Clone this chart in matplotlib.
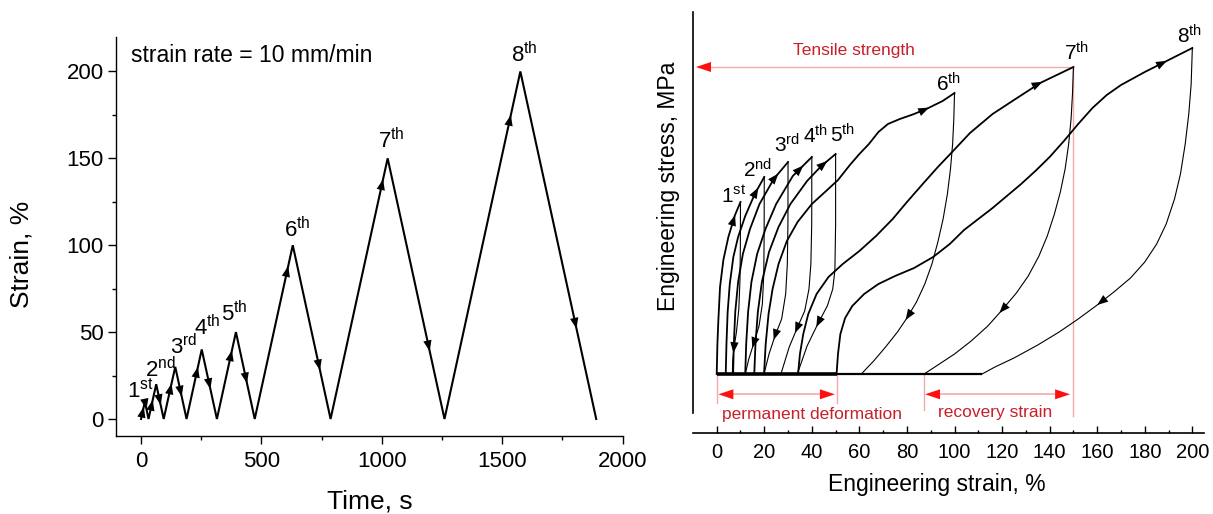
import numpy as np
import matplotlib
matplotlib.use('Agg')
import matplotlib.pyplot as plt
from matplotlib.ticker import MultipleLocator

plt.rcParams['font.family'] = ['Liberation Sans', 'DejaVu Sans']
plt.rcParams['mathtext.fontset'] = 'custom'
plt.rcParams['mathtext.rm'] = 'Liberation Sans'
plt.rcParams['mathtext.it'] = 'Liberation Sans:italic'
plt.rcParams['mathtext.bf'] = 'Liberation Sans:bold'

# ---------------- Left panel data: strain program ----------------
time_s = [0, 16, 31, 63, 94, 142, 189, 252, 315, 394, 472, 630, 787, 1024, 1260, 1575, 1890]
strain_pct = [0, 10, 0, 20, 0, 30, 0, 40, 0, 50, 0, 100, 0, 150, 0, 200, 0]
cycle_num = ['1', '2', '3', '4', '5', '6', '7', '8']
cycle_suffix = ['st', 'nd', 'rd', 'th', 'th', 'th', 'th', 'th']
rate_text = 'strain rate = 10 mm/min'

# ---------------- Right panel data: stress-strain loops ----------------
load1_x = [0, 0.3, 0.7, 1.4, 2.8, 4.9, 7.7, 10]
load1_y = [0, 0.3, 0.54, 0.87, 1.14, 1.37, 1.59, 1.72]
unload1_x = [10, 9.95, 9.8, 9.3, 8.3, 7.2, 6.7, 6.6]
unload1_y = [1.72, 1.3, 0.95, 0.65, 0.42, 0.25, 0.12, 0]

load2_x = [3.8, 4.1, 4.6, 5.5, 7, 9, 12, 16, 20]
load2_y = [0, 0.3, 0.62, 0.9, 1.17, 1.37, 1.58, 1.8, 1.97]
unload2_x = [20, 19.95, 19.8, 19.2, 17.8, 15.5, 13.5, 12.0]
unload2_y = [1.97, 1.4, 1.0, 0.7, 0.48, 0.3, 0.15, 0]

load3_x = [6.9, 7.2, 7.8, 9, 11, 14, 18, 24, 30]
load3_y = [0, 0.3, 0.62, 0.92, 1.2, 1.45, 1.7, 1.95, 2.12]
unload3_x = [30, 29.95, 29.7, 29.0, 27.3, 24.5, 22.0, 19.9]
unload3_y = [2.12, 1.5, 1.1, 0.8, 0.55, 0.38, 0.2, 0]

load4_x = [12, 12.4, 13.2, 14.6, 17, 20.5, 25, 32, 40]
load4_y = [0, 0.3, 0.62, 0.92, 1.2, 1.45, 1.7, 1.98, 2.17]
unload4_x = [40, 39.95, 39.6, 38.8, 37.0, 34.0, 30.5, 27.0]
unload4_y = [2.17, 1.5, 1.1, 0.85, 0.63, 0.47, 0.27, 0]

load5_x = [15.8, 16.3, 17.3, 19, 22, 26, 31, 38, 44, 50]
load5_y = [0, 0.3, 0.62, 0.92, 1.22, 1.47, 1.7, 1.93, 2.08, 2.2]
unload5_x = [50, 50, 49.7, 48.8, 46.5, 42.5, 38.0, 33.9]
unload5_y = [2.2, 1.5, 1.04, 0.85, 0.68, 0.5, 0.28, 0]

load6_x = [19.9, 20.6, 21.8, 23.5, 26, 29.5, 34, 40, 46, 51, 56, 60, 64, 68, 72, 77, 83,
           89, 95, 100]
load6_y = [0, 0.3, 0.6, 0.85, 1.1, 1.33, 1.52, 1.7, 1.83, 1.94, 2.09, 2.2, 2.3, 2.42,
           2.5, 2.55, 2.6, 2.66, 2.73, 2.81]
unload6_x = [100, 99.7, 99.2, 98.3, 97, 95.2, 93, 90.5, 87.5, 84, 80, 76, 71, 66, 60.8]
unload6_y = [2.81, 2.55, 2.3, 2.05, 1.8, 1.55, 1.32, 1.1, 0.9, 0.72, 0.56, 0.42, 0.27,
             0.13, 0]

load7_x = [34.2, 35, 36.4, 38.5, 42, 47, 53, 60, 67, 74, 80, 87, 93, 99, 106.5, 116, 125,
           136, 150]
load7_y = [0, 0.2, 0.4, 0.6, 0.8, 0.97, 1.1, 1.23, 1.38, 1.55, 1.72, 1.91, 2.07, 2.22,
           2.41, 2.6, 2.74, 2.91, 3.07]
unload7_x = [150, 149.6, 149, 148, 146.5, 144.5, 142, 139, 135.5, 131, 126, 120, 114, 107,
             100, 93, 87.2]
unload7_y = [3.07, 2.8, 2.55, 2.3, 2.05, 1.82, 1.6, 1.38, 1.18, 0.98, 0.81, 0.64, 0.48,
             0.33, 0.2, 0.09, 0]

load8_x = [50.4, 51, 52, 54, 57, 62, 68, 75, 83, 91, 98, 104, 110, 116, 122, 128, 134, 140,
           146, 152, 158, 164, 170, 180, 190, 200]
load8_y = [0, 0.2, 0.4, 0.56, 0.68, 0.8, 0.9, 0.98, 1.06, 1.17, 1.3, 1.44, 1.55, 1.66,
           1.78, 1.9, 2.03, 2.17, 2.33, 2.5, 2.66, 2.79, 2.89, 3.02, 3.14, 3.26]
unload8_x = [200, 199.5, 198.5, 197, 195, 192.5, 189, 185, 180, 174, 167, 160, 152, 144,
             135, 125, 117, 111.6]
unload8_y = [3.26, 2.9, 2.6, 2.3, 2.0, 1.75, 1.5, 1.3, 1.12, 0.96, 0.82, 0.69, 0.55, 0.42,
             0.29, 0.16, 0.07, 0]

baseline_x = [0, 50.4, 111.6]
tensile_strength = 3.07
permanent_range = [0, 50.4]
recovery_range = [87.2, 150]
load_arrow_x = [7.7, 17.5, 25.9, 36.4, 46.5, 89.3, 137, 189.3]
unload_arrow_y = [0.21, 0.26, 0.34, 0.41, 0.47, 0.54, 0.61, 0.69]

loads = [(load1_x, load1_y), (load2_x, load2_y), (load3_x, load3_y), (load4_x, load4_y),
         (load5_x, load5_y), (load6_x, load6_y), (load7_x, load7_y), (load8_x, load8_y)]
unloads = [(unload1_x, unload1_y), (unload2_x, unload2_y), (unload3_x, unload3_y),
           (unload4_x, unload4_y), (unload5_x, unload5_y), (unload6_x, unload6_y),
           (unload7_x, unload7_y), (unload8_x, unload8_y)]

# ---------------- styles ----------------
W, H = 1213, 514
PINK = '#f3a9a9'
RED = '#ff1010'
DRED = '#c8202a'


def axrect(x0, y0, x1, y1):
    return [x0 / W, 1 - y1 / H, (x1 - x0) / W, (y1 - y0) / H]


def head(ax, tail, tip, color='k', ms=10, hl=0.6, hw=0.24):
    return ax.annotate('', xy=tip, xytext=tail,
                       arrowprops=dict(arrowstyle=f'-|>,head_length={hl},head_width={hw}',
                                       color=color, lw=0, shrinkA=0, shrinkB=0,
                                       mutation_scale=ms), zorder=6)


fig = plt.figure(figsize=(W / 100, H / 100), dpi=100)

# ================= Left panel =================
ax1 = fig.add_axes(axrect(116, 36.7, 622.7, 436))
ax1.plot(time_s, strain_pct, color='k', lw=1.5, solid_joinstyle='miter')
ax1.set_xlim(-104, 2000)
ax1.set_ylim(-9.8, 220)
for s in ('top', 'right'):
    ax1.spines[s].set_visible(False)
for s in ('left', 'bottom'):
    ax1.spines[s].set_linewidth(1.0)
ax1.xaxis.set_major_locator(MultipleLocator(500))
ax1.xaxis.set_minor_locator(MultipleLocator(250))
ax1.yaxis.set_major_locator(MultipleLocator(50))
ax1.yaxis.set_minor_locator(MultipleLocator(25))
ax1.tick_params(which='major', direction='out', length=5.8, width=1.0, labelsize=16)
ax1.tick_params(which='minor', direction='out', length=3.2, width=1.0)
ax1.tick_params(axis='x', pad=5)
ax1.tick_params(axis='y', pad=3)

up_frac = [0.7, 0.55, 0.68, 0.75, 0.79, 0.88, 0.92, 0.875]
down_frac = [0.45, 0.6, 0.57, 0.57, 0.59, 0.72, 0.74, 0.74]
lab_off1 = [(-3, 3), (3, 5), (6, 9), (4, 10), (-1.5, 8), (3, 6), (2.5, 7), (3, 7)]
for i in range(8):
    t0, s0 = time_s[2 * i], strain_pct[2 * i]
    tp, sp = time_s[2 * i + 1], strain_pct[2 * i + 1]
    t1, s1 = time_s[2 * i + 2], strain_pct[2 * i + 2]
    f = up_frac[i]
    head(ax1, (t0 + (f - 0.04) * (tp - t0), s0 + (f - 0.04) * (sp - s0)),
         (t0 + f * (tp - t0), s0 + f * (sp - s0)), ms=12, hl=0.65, hw=0.25)
    g = down_frac[i]
    head(ax1, (tp + (g - 0.04) * (t1 - tp), sp + (g - 0.04) * (s1 - sp)),
         (tp + g * (t1 - tp), sp + g * (s1 - sp)), ms=12, hl=0.65, hw=0.25)
    ax1.annotate(cycle_num[i] + r'$^{\mathrm{' + cycle_suffix[i] + '}}$', xy=(tp, sp),
                 xytext=lab_off1[i], textcoords='offset points', ha='center',
                 va='baseline', fontsize=16)

ax1.text((130.6 - 116) / 506.7, (436 - 62) / 399.3, rate_text, transform=ax1.transAxes,
         fontsize=16.5, va='baseline', ha='left')
fig.text(370 / W, 1 - 509 / H, 'Time, s', fontsize=19, ha='center', va='baseline')
fig.text(22 / W, 1 - 254 / H, 'Strain, %', fontsize=19, ha='center', va='center',
         rotation=90)

# ================= Right panel =================
ax2 = fig.add_axes(axrect(693.3, 11.7, 1204, 413))
ax2.set_xlim(-9.84, 204.9)
ax2.set_ylim(-0.39, 3.623)
for s in ('top', 'right'):
    ax2.spines[s].set_visible(False)
ax2.spines['left'].set_linewidth(1.2)
ax2.spines['bottom'].set_linewidth(1.2)
ax2.spines['bottom'].set_position(('outward', 14.4))
ax2.set_yticks([])
ax2.xaxis.set_major_locator(MultipleLocator(20))
ax2.xaxis.set_minor_locator(MultipleLocator(10))
ax2.tick_params(axis='x', which='major', direction='in', length=5, width=1.0,
                labelsize=14.5, pad=7)
ax2.tick_params(axis='x', which='minor', direction='in', length=2.5, width=1.0)

# red annotations (drawn first, behind curves)
ax2.plot([-9.84 + 2, 150], [tensile_strength] * 2, color=PINK, lw=1.0, zorder=1)
head(ax2, (5, tensile_strength), (-8.7, tensile_strength), color=RED, ms=10, hl=1.08, hw=0.36)
ax2.plot([150, 150], [tensile_strength, -0.42], color=PINK, lw=1.0, zorder=1, clip_on=False)
for xv, ylow in ((permanent_range[0], -0.29), (permanent_range[1], -0.29),
                 (recovery_range[0], -0.36)):
    ax2.plot([xv, xv], [0, ylow], color=PINK, lw=1.0, zorder=1, clip_on=False)
yarr = -0.203
for (xa, xb), (ta, tb) in ((permanent_range, (0.7, 49.7)), (recovery_range, (87.6, 148.6))):
    ax2.plot([ta + 4, tb - 4], [yarr, yarr], color=PINK, lw=1.2, zorder=1)
    head(ax2, (ta + 8, yarr), (ta, yarr), color=RED, ms=10, hl=1.08, hw=0.36)
    head(ax2, (tb - 8, yarr), (tb, yarr), color=RED, ms=10, hl=1.08, hw=0.36)

ax2.text((854.4 - 716.7) / 2.378, (374 - 55) / 100, 'Tensile strength', color=DRED,
         fontsize=12.5, ha='center', va='baseline')
ax2.text((811.7 - 716.7) / 2.378, (374 - 419.5) / 100, 'permanent deformation', color=DRED,
         fontsize=12.5, ha='center', va='baseline')
ax2.text((995 - 716.7) / 2.378, (374 - 416.7) / 100, 'recovery strain', color=DRED,
         fontsize=12.5, ha='center', va='baseline')

# baseline (zero stress)
ax2.plot(baseline_x[:2], [0, 0], color='k', lw=2.6, zorder=3, solid_capstyle='butt')
ax2.plot(baseline_x[1:], [0, 0], color='k', lw=1.6, zorder=3, solid_capstyle='butt')

lab_off2 = [(-5, -1), (-5, 0), (-1, 6.5), (3, 10), (5, 8), (-4.5, 1), (2, 4.5), (-2, 3.5)]
for i in range(8):
    lx, ly = loads[i]
    ux, uy = unloads[i]
    ax2.plot(lx, ly, color='k', lw=1.3, zorder=4)
    ax2.plot(ux, uy, color='k', lw=0.8, zorder=4)
    # loading arrow
    xa = load_arrow_x[i]
    ya = np.interp(xa, lx, ly)
    xb = xa - 0.6
    yb = np.interp(xb, lx, ly)
    head(ax2, (xb, yb), (xa, ya), ms=12, hl=0.65, hw=0.25)
    # unloading arrow (parametrised by stress)
    ua = unload_arrow_y[i]
    uxr, uyr = np.array(ux)[::-1], np.array(uy)[::-1]
    xa2 = np.interp(ua, uyr, uxr)
    ub = ua + 0.03
    xb2 = np.interp(ub, uyr, uxr)
    head(ax2, (xb2, ub), (xa2, ua), ms=12, hl=0.65, hw=0.25)
    ax2.annotate(cycle_num[i] + r'$^{\mathrm{' + cycle_suffix[i] + '}}$', xy=(lx[-1], ly[-1]),
                 xytext=lab_off2[i], textcoords='offset points', ha='center',
                 va='baseline', fontsize=15)

fig.text(937.3 / W, 1 - 491 / H, 'Engineering strain, %', fontsize=16.5, ha='center',
         va='baseline')
fig.text(669 / W, 1 - 186.7 / H, 'Engineering stress, MPa', fontsize=16.5, ha='center',
         va='center', rotation=90)

fig.savefig('out.png', dpi=100)
